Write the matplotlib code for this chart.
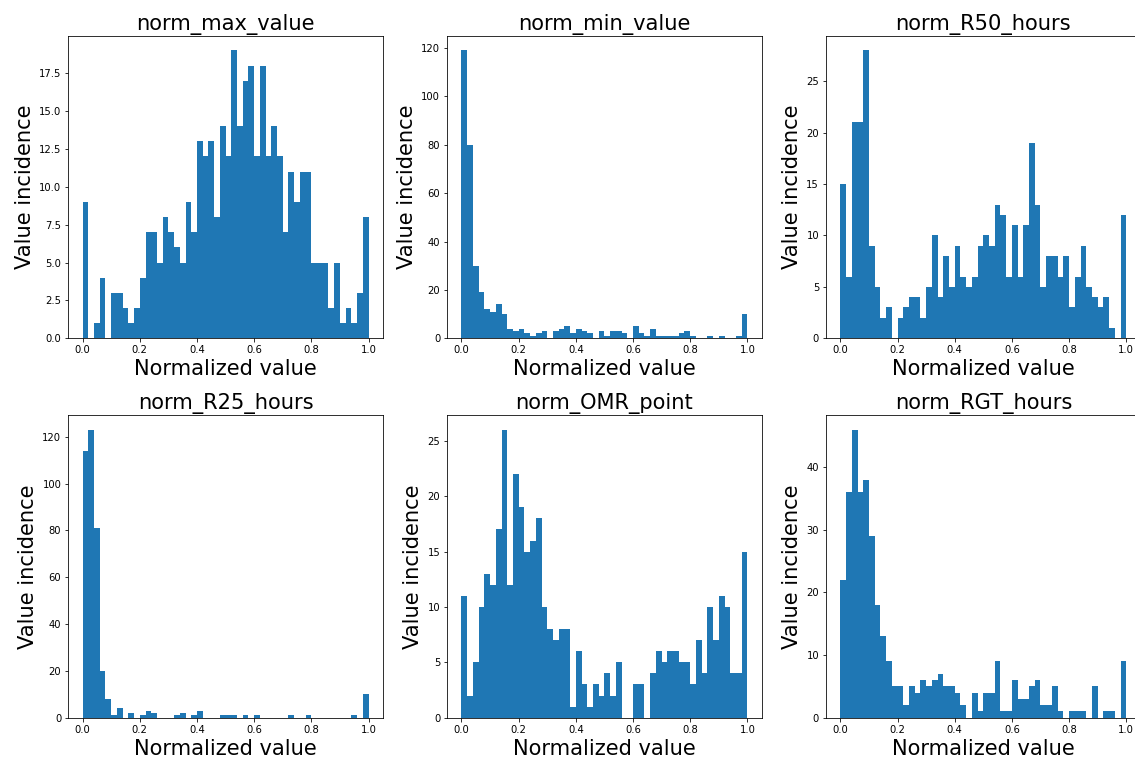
import numpy as np
import matplotlib
matplotlib.use("Agg")
import matplotlib.pyplot as plt

# Histogram counts per bin (50 equal bins on [0, 1]) for each normalized feature
max_value = [9, 0, 1, 4, 0, 3, 3, 2, 1, 2,
             4, 7, 7, 5, 8, 7, 6, 5, 9, 7,
             13, 12, 13, 8, 14, 12, 19, 14, 17, 18,
             12, 18, 12, 14, 12, 7, 11, 9, 11, 11,
             5, 5, 5, 2, 5, 1, 2, 1, 3, 8]
min_value = [119, 80, 30, 19, 12, 11, 14, 10, 4, 3,
             4, 2, 1, 2, 3, 0, 3, 4, 5, 2,
             4, 3, 2, 0, 3, 1, 3, 3, 2, 0,
             5, 2, 1, 4, 1, 1, 1, 1, 2, 3,
             1, 0, 0, 1, 0, 1, 0, 0, 1, 10]
r50_hours = [15, 6, 21, 21, 28, 9, 5, 2, 3, 0,
             2, 3, 4, 4, 2, 5, 10, 4, 8, 5,
             9, 6, 5, 6, 9, 10, 9, 13, 12, 6,
             11, 6, 11, 19, 13, 5, 8, 8, 6, 8,
             3, 6, 9, 5, 4, 3, 4, 1, 0, 12]
r25_hours = [114, 123, 81, 20, 8, 1, 4, 0, 2, 0,
             1, 3, 2, 0, 0, 0, 1, 2, 0, 1,
             3, 0, 0, 0, 1, 1, 1, 0, 1, 0,
             1, 0, 0, 0, 0, 0, 1, 0, 0, 1,
             0, 0, 0, 0, 0, 0, 0, 1, 0, 10]
omr_point = [11, 2, 5, 10, 13, 12, 17, 26, 12, 22,
             19, 15, 16, 18, 10, 8, 7, 8, 8, 1,
             6, 3, 1, 3, 2, 4, 2, 5, 0, 0,
             3, 3, 0, 4, 6, 5, 6, 6, 5, 5,
             3, 7, 4, 10, 7, 11, 10, 4, 4, 15]
rgt_hours = [22, 36, 46, 36, 38, 29, 18, 13, 9, 5,
             5, 2, 5, 4, 6, 5, 6, 7, 5, 5,
             4, 2, 0, 4, 1, 4, 4, 9, 1, 1,
             6, 3, 3, 5, 6, 2, 2, 5, 1, 0,
             1, 1, 1, 0, 5, 0, 1, 1, 0, 9]

titles = ["norm_max_value", "norm_min_value", "norm_R50_hours",
          "norm_R25_hours", "norm_OMR_point", "norm_RGT_hours"]
counts = [max_value, min_value, r50_hours, r25_hours, omr_point, rgt_hours]

edges = np.linspace(0, 1, 51)

fig, axs = plt.subplots(2, 3, figsize=(1135 / 72, 760 / 72), dpi=72)
plt.subplots_adjust(left=0.0602, right=1.0049, top=0.9526, bottom=0.0557,
                    wspace=0.2047, hspace=0.255)

for ax, title, c in zip(axs.flat, titles, counts):
    # weights carry the bin counts, one sample at each bin's left edge
    ax.hist(edges[:-1], bins=edges, weights=c, color="#1f77b4")
    ax.set_title(title, fontsize=21)
    ax.set_xlabel("Normalized value", fontsize=21)
    ax.set_ylabel("Value incidence", fontsize=21)
    ax.tick_params(labelsize=10)

fig.savefig("out.png", dpi=72)
